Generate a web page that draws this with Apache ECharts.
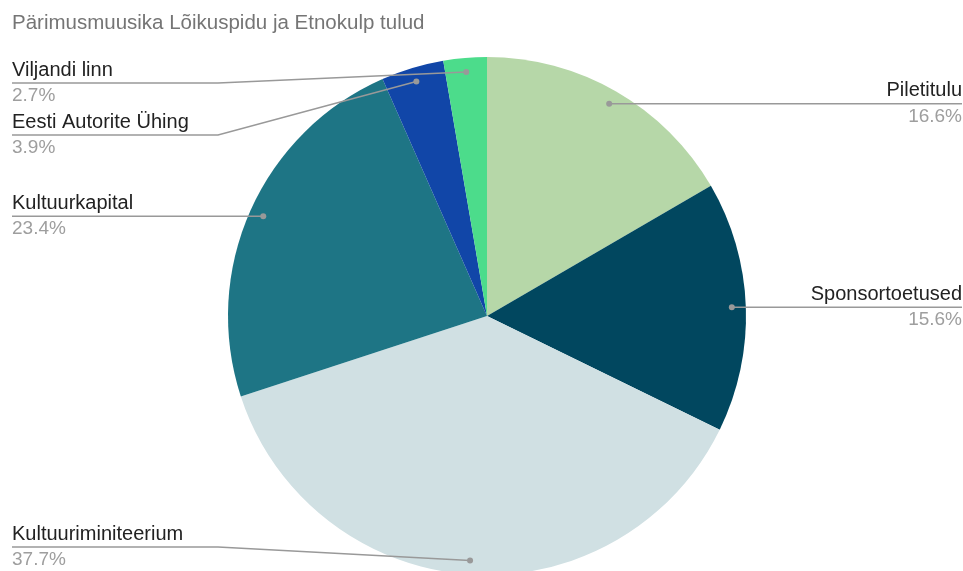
<!DOCTYPE html>
<html><head><meta charset="utf-8">
<script src="https://cdn.jsdelivr.net/npm/echarts@6/dist/echarts.min.js"></script>
<style>html,body{margin:0;padding:0;background:#fff}#c{width:963px;height:571px}</style>
</head><body><div id="c"></div>
<script>
const titleText = 'Pärimusmuusika Lõikuspidu ja Etnokulp tulud';
const categories = ['Piletitulu', 'Sponsortoetused', 'Kultuuriminiteerium', 'Kultuurkapital', 'Eesti Autorite Ühing', 'Viljandi linn'];
const values = [16.6, 15.6, 37.7, 23.4, 3.9, 2.7];
const colors = ['#b6d7a8', '#01475f', '#d0e0e3', '#1e7585', '#1146a8', '#4cdc8b'];

const FONT = '"Liberation Sans", Arial, sans-serif';
const AREA_TOP = 57, AREA_H = 516;
const CX = 487, CY_OFF = 259, R = 259, R_LABEL = 245;
const BEND = 206;
const LINE_H = 26;

const chart = echarts.init(document.getElementById('c'), null, { renderer: 'canvas' });
const dots = {}; let targetY = null;

function labelLayout(p) {
  const i = p.dataIndex;
  const s = p.labelLinePoints ? p.labelLinePoints[0] : null;
  if (!dots[i] && s) dots[i] = [s[0], s[1]];
  if (!targetY || !dots[i]) return {};
  const d = dots[i]; const y = targetY[i]; const r = p.labelRect;
  let pts;
  if (d[0] < CX) pts = [d.slice(), [r.x + BEND, y], [r.x, y]];
  else { const ex = r.x + r.width; pts = [d.slice(), [(d[0] + ex) / 2, y], [ex, y]]; }
  return { y: y, verticalAlign: 'middle', labelLinePoints: pts };
}

function computeTargets() {
  const idx = values.map((_, i) => i).filter(i => dots[i]);
  const h = 2 * LINE_H;
  const t = {};
  [true, false].forEach(isLeft => {
    const list = idx.filter(i => (dots[i][0] < CX) === isLeft).sort((a, b) => dots[a][1] - dots[b][1]);
    let prevY = null;
    list.forEach(i => {
      let y = Math.max(dots[i][1], AREA_TOP + h / 2);
      if (prevY != null) y = Math.max(y, prevY + h);
      t[i] = y; prevY = y;
    });
    let nextY = null;
    for (let k = list.length - 1; k >= 0; k--) {
      const i = list[k];
      let y = Math.min(t[i], AREA_TOP + AREA_H - h / 2);
      if (nextY != null) y = Math.min(y, nextY - h);
      t[i] = y; nextY = y;
    }
  });
  return t;
}

const pieData = categories.map((c, i) => ({ name: c, value: values[i], itemStyle: { color: colors[i] } }));
const labelData = categories.map((c, i) => ({ name: c, value: values[i] }));

const option = {
  animation: false,
  title: {
    text: titleText, left: 12, top: 13, padding: 0,
    textStyle: { fontSize: 20.5, fontWeight: 'normal', color: '#757575', fontFamily: FONT }
  },
  series: [
    {
      type: 'pie', z: 1, left: 0, width: 963, top: AREA_TOP, height: AREA_H,
      center: [CX, CY_OFF], radius: R, startAngle: 90, clockwise: true,
      silent: true, label: { show: false }, labelLine: { show: false },
      emphasis: { disabled: true }, itemStyle: { borderWidth: 0 },
      data: pieData
    },
    {
      type: 'pie', z: 5, left: 0, width: 963, top: AREA_TOP, height: AREA_H,
      center: [CX, CY_OFF], radius: R_LABEL, startAngle: 90, clockwise: true,
      silent: true, avoidLabelOverlap: false, emphasis: { disabled: true },
      itemStyle: { color: 'rgba(0,0,0,0)', borderWidth: 0 },
      label: {
        show: true, position: 'outer', alignTo: 'edge', edgeDistance: 12,
        formatter: p => '{n|' + p.name + '}\n{p|' + p.value.toFixed(1) + '%}',
        rich: {
          n: { fontSize: 20, lineHeight: LINE_H, color: '#222222', fontFamily: FONT },
          p: { fontSize: 19, lineHeight: LINE_H, color: '#9e9e9e', fontFamily: FONT }
        }
      },
      labelLine: { show: true, length: 1, length2: 5, lineStyle: { color: '#999999', width: 1.5 } },
      labelLayout: labelLayout,
      data: labelData.map((d, i) => (i < 2 ? Object.assign({}, d, { label: { edgeDistance: 1 } }) : d))
    }
  ]
};

chart.setOption(option);
targetY = computeTargets();
const graphics = Object.keys(dots).map(k => ({
  type: 'circle', z: 100, silent: true,
  shape: { cx: dots[k][0], cy: dots[k][1], r: 3 },
  style: { fill: '#999999' }
}));
chart.setOption({ graphic: graphics, series: [{}, { labelLayout: labelLayout }] });
</script>
</body></html>
